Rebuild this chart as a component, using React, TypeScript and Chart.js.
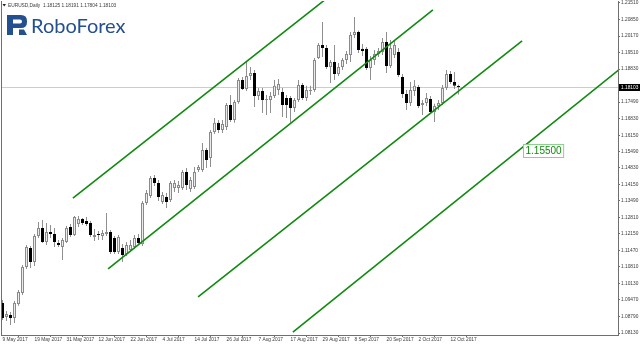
import React, { useEffect, useRef } from "react";
import { Chart, registerables } from "chart.js";
Chart.register(...registerables);

const symbolTitle = "EURUSD,Daily";
const brandName = "RoboForex";

const opens = [
  1.0935, 1.0878, 1.0886, 1.0874, 1.0931, 1.0975, 1.1081, 1.1158, 1.1101, 1.1206,
  1.1239, 1.1182, 1.1223, 1.1214, 1.1178, 1.1162, 1.1182, 1.1243, 1.121, 1.1255,
  1.1275, 1.1267, 1.1259, 1.1202, 1.1214, 1.1206, 1.1214, 1.1223, 1.1198, 1.1141,
  1.1158, 1.1133, 1.115, 1.1162, 1.1198, 1.1174, 1.134, 1.1368, 1.1441, 1.1421,
  1.1344, 1.1364, 1.1352, 1.1401, 1.1401, 1.1401, 1.1466, 1.1397, 1.1405, 1.1474,
  1.1474, 1.1555, 1.1523, 1.1628, 1.1665, 1.1636, 1.1648, 1.1737, 1.1677, 1.175,
  1.1839, 1.1802, 1.1855, 1.1867, 1.1774, 1.1794, 1.1758, 1.1758, 1.1774, 1.1798,
  1.179, 1.1766, 1.1766, 1.1725, 1.1758, 1.1819, 1.1766, 1.1794, 1.1798, 1.1928,
  1.1981, 1.1969, 1.1892, 1.1912, 1.1863, 1.1892, 1.192, 1.194, 1.2021, 1.2033,
  1.1965, 1.1965, 1.1887, 1.192, 1.1944, 1.1952, 1.1993, 1.1896, 1.194, 1.1952,
  1.1851, 1.1782, 1.1746, 1.1794, 1.181, 1.1737, 1.1746, 1.1762, 1.1709, 1.1733,
  1.1746, 1.1806, 1.1863, 1.1831, 1.18125,
];
const highs = [
  1.0947, 1.0902, 1.0898, 1.0943, 1.0987, 1.1089, 1.117, 1.1166, 1.1214, 1.1263,
  1.1271, 1.1259, 1.1251, 1.1239, 1.119, 1.1198, 1.1247, 1.1255, 1.1287, 1.1287,
  1.1279, 1.1283, 1.1267, 1.1235, 1.1227, 1.1231, 1.13, 1.1231, 1.1206, 1.121,
  1.1174, 1.1182, 1.119, 1.121, 1.1214, 1.1348, 1.1393, 1.145, 1.1454, 1.1433,
  1.1385, 1.1381, 1.1429, 1.1433, 1.1429, 1.1474, 1.1482, 1.1446, 1.1486, 1.1494,
  1.1583, 1.1563, 1.1636, 1.1685, 1.1677, 1.1677, 1.1746, 1.1778, 1.1758, 1.1847,
  1.1851, 1.1912, 1.1892, 1.1879, 1.1806, 1.1806, 1.1778, 1.179, 1.1839, 1.1843,
  1.1806, 1.1778, 1.1774, 1.1766, 1.1839, 1.1827, 1.1815, 1.1815, 1.1928, 1.1989,
  1.2074, 1.1981, 1.192, 1.1981, 1.1908, 1.1928, 1.1956, 1.2033, 1.2094, 1.2038,
  1.1985, 1.1973, 1.1936, 1.196, 1.1969, 1.2009, 1.2033, 1.2001, 1.2001, 1.1969,
  1.1863, 1.1798, 1.1831, 1.1839, 1.1819, 1.1758, 1.1786, 1.1774, 1.1742, 1.1758,
  1.1819, 1.1879, 1.1875, 1.1871, 1.18191,
];
const lows = [
  1.0866, 1.0862, 1.0845, 1.0854, 1.0923, 1.0967, 1.1073, 1.1077, 1.1085, 1.1198,
  1.1178, 1.117, 1.1198, 1.1162, 1.1162, 1.1109, 1.1178, 1.1202, 1.1206, 1.1243,
  1.1251, 1.1247, 1.1202, 1.1186, 1.119, 1.119, 1.1206, 1.1133, 1.1133, 1.1133,
  1.1101, 1.1125, 1.1141, 1.1154, 1.117, 1.1166, 1.1332, 1.136, 1.1409, 1.1348,
  1.1336, 1.132, 1.1344, 1.1385, 1.1381, 1.1393, 1.1393, 1.1385, 1.1397, 1.1466,
  1.1466, 1.1482, 1.1486, 1.162, 1.1624, 1.1624, 1.1636, 1.1669, 1.1665, 1.1742,
  1.1798, 1.1794, 1.1839, 1.1729, 1.1758, 1.1705, 1.1697, 1.1705, 1.1766, 1.1778,
  1.1689, 1.1685, 1.1665, 1.1709, 1.175, 1.1758, 1.1754, 1.1778, 1.179, 1.1924,
  1.1932, 1.1883, 1.1827, 1.1839, 1.1855, 1.1879, 1.1904, 1.1912, 1.2009, 1.1948,
  1.1936, 1.1879, 1.1839, 1.19, 1.1932, 1.194, 1.1867, 1.1887, 1.1928, 1.1851,
  1.1766, 1.1717, 1.1733, 1.1774, 1.1725, 1.1697, 1.1733, 1.1701, 1.1669, 1.1717,
  1.1737, 1.1798, 1.1823, 1.1802, 1.17804,
];
const closes = [
  1.0874, 1.089, 1.0874, 1.0935, 1.0979, 1.1081, 1.1162, 1.1101, 1.1206, 1.1239,
  1.1182, 1.1223, 1.1214, 1.1182, 1.117, 1.119, 1.1239, 1.121, 1.1283, 1.1275,
  1.1259, 1.1255, 1.121, 1.121, 1.121, 1.1218, 1.1223, 1.1141, 1.1141, 1.1202,
  1.1129, 1.117, 1.117, 1.1198, 1.1178, 1.134, 1.1381, 1.1441, 1.1421, 1.1364,
  1.1373, 1.1344, 1.1421, 1.1421, 1.1413, 1.1466, 1.1413, 1.1433, 1.1466, 1.1486,
  1.1555, 1.1514, 1.1628, 1.1665, 1.1636, 1.166, 1.1737, 1.1677, 1.175, 1.1839,
  1.1802, 1.1855, 1.1867, 1.1774, 1.1794, 1.1758, 1.1762, 1.1774, 1.1815, 1.1823,
  1.1737, 1.1737, 1.1725, 1.1758, 1.1819, 1.1766, 1.1798, 1.1798, 1.192, 1.1981,
  1.1969, 1.1892, 1.1912, 1.1863, 1.1892, 1.192, 1.1944, 1.2021, 1.2033, 1.196,
  1.1956, 1.1887, 1.192, 1.1944, 1.1956, 1.1993, 1.1896, 1.1969, 1.1981, 1.1859,
  1.1782, 1.1746, 1.1798, 1.1815, 1.1733, 1.1746, 1.1766, 1.1709, 1.1733, 1.1746,
  1.1806, 1.1863, 1.1831, 1.1815, 1.18103,
];

const xTickPositions = [0, 8, 16, 24, 32, 40, 48, 56, 64, 72, 80, 88, 96, 104, 112];
const xTickLabels = [
  "9 May 2017", "19 May 2017", "31 May 2017", "12 Jun 2017", "22 Jun 2017",
  "4 Jul 2017", "14 Jul 2017", "26 Jul 2017", "7 Aug 2017", "17 Aug 2017",
  "29 Aug 2017", "8 Sep 2017", "20 Sep 2017", "2 Oct 2017", "12 Oct 2017",
];
const yTickValues = [
  1.2151, 1.2085, 1.2017, 1.1951, 1.1883, 1.1749, 1.1683, 1.1615, 1.1549, 1.1483,
  1.1415, 1.1349, 1.1281, 1.1215, 1.1147, 1.1081, 1.1013, 1.0947, 1.0879, 1.0813,
];

// channel trend lines (bar index, price)
const channelA = [{ x: 17.6, y: 1.136 }, { x: 81, y: 1.2169 }];
const channelB = [{ x: 26.4, y: 1.1073 }, { x: 107.6, y: 1.2123 }];
const channelC = [{ x: 48.9, y: 1.0959 }, { x: 129.9, y: 1.1997 }];
const channelD = [{ x: 72.6, y: 1.0817 }, { x: 154, y: 1.1879 }];
const levelValue = 1.155;
const levelIndex = 130.1;

const X_MIN = -0.125;
const X_MAX = 153.875;
const Y_MIN = 1.08049;
const Y_MAX = 1.21591;

const GREEN = "#0f8a0f";
const AXIS = "#6f6f6f";
const TEXT = "#3a3a3a";
const BLUE = "#24508f";
const FONT = "'Liberation Sans', Arial, sans-serif";

export default function App() {
  const ref = useRef<HTMLCanvasElement>(null);
  useEffect(() => {
    document.body.style.margin = "0";
    const canvas = ref.current!;
    const n = opens.length;
    const lastClose = closes[n - 1];
    const isBull = (i: number) => closes[i] >= opens[i];

    const overlay = {
      id: "overlay",
      beforeDatasetsDraw(chart: any) {
        const { ctx, chartArea: a, scales } = chart;
        const y = Math.round(scales.y.getPixelForValue(lastClose)) + 0.5;
        ctx.save();
        ctx.strokeStyle = "#cdcdcd";
        ctx.lineWidth = 1;
        ctx.beginPath();
        ctx.moveTo(a.left, y);
        ctx.lineTo(a.right, y);
        ctx.stroke();
        ctx.restore();
      },
      afterDraw(chart: any) {
        const { ctx, chartArea: a, scales } = chart;
        ctx.save();
        // left frame
        ctx.strokeStyle = AXIS;
        ctx.lineWidth = 1;
        ctx.beginPath();
        ctx.moveTo(a.left - 0.5, a.top);
        ctx.lineTo(a.left - 0.5, a.bottom + 1);
        ctx.stroke();

        // header
        ctx.fillStyle = "#222";
        ctx.beginPath();
        ctx.moveTo(2.5, 4);
        ctx.lineTo(6, 4);
        ctx.lineTo(4.25, 6.5);
        ctx.closePath();
        ctx.fill();
        ctx.font = `4.8px ${FONT}`;
        ctx.textBaseline = "alphabetic";
        ctx.textAlign = "left";
        ctx.fillStyle = TEXT;
        const hdr = `${symbolTitle}  ${opens[n - 1].toFixed(5)} ${highs[n - 1].toFixed(5)} ${lows[n - 1].toFixed(5)} ${lastClose.toFixed(5)}`;
        ctx.fillText(hdr, 8, 7);

        // logo icon
        ctx.fillStyle = BLUE;
        ctx.beginPath();
        ctx.moveTo(7, 15);
        ctx.lineTo(21, 15);
        ctx.quadraticCurveTo(27, 15, 27, 21);
        ctx.lineTo(27, 22);
        ctx.quadraticCurveTo(27, 28, 21, 28);
        ctx.lineTo(13, 28);
        ctx.lineTo(13, 35);
        ctx.lineTo(7, 35);
        ctx.closePath();
        ctx.moveTo(13, 19.5);
        ctx.lineTo(13, 23.5);
        ctx.lineTo(20, 23.5);
        ctx.quadraticCurveTo(22, 23.5, 22, 21.5);
        ctx.quadraticCurveTo(22, 19.5, 20, 19.5);
        ctx.closePath();
        ctx.fill("evenodd");
        ctx.beginPath();
        ctx.moveTo(19, 29.5);
        ctx.lineTo(24, 29.5);
        ctx.lineTo(27, 35);
        ctx.lineTo(19, 35);
        ctx.closePath();
        ctx.fill();
        // logo text
        ctx.font = `20px Lato, 'Open Sans', sans-serif`;
        ctx.fillStyle = BLUE;
        ctx.fillText(brandName, 31, 33);

        // level label
        const lx = scales.x.getPixelForValue(levelIndex);
        const ly = scales.y.getPixelForValue(levelValue);
        ctx.font = `10px ${FONT}`;
        const txt = levelValue.toFixed(5);
        const tw = ctx.measureText(txt).width;
        const bx = Math.round(lx) + 0.5;
        const by = Math.round(ly - 7) + 0.5;
        ctx.fillStyle = "#ffffff";
        ctx.fillRect(bx, by, tw + 4, 13);
        ctx.strokeStyle = "#8fd08f";
        ctx.strokeRect(bx, by, tw + 4, 13);
        ctx.fillStyle = GREEN;
        ctx.textBaseline = "middle";
        ctx.fillText(txt, bx + 2, by + 7);

        // current price tag
        const py = scales.y.getPixelForValue(lastClose);
        ctx.fillStyle = "#000";
        ctx.fillRect(a.right + 1, Math.round(py) - 3, 640 - a.right - 1, 7);
        ctx.fillStyle = "#fff";
        ctx.font = `4.8px ${FONT}`;
        ctx.textBaseline = "middle";
        ctx.fillText(lastClose.toFixed(5), a.right + 3, Math.round(py) + 0.5);
        ctx.restore();
      },
    };

    const lineDs = (data: any[]) => ({
      type: "line" as const,
      data,
      borderColor: GREEN,
      borderWidth: 1.6,
      pointRadius: 0,
      fill: false,
      order: 0,
    });

    const chart = new Chart(canvas, {
      type: "bar",
      data: {
        datasets: [
          {
            type: "bar",
            data: highs.map((h, i) => ({ x: i, y: [lows[i], h] })),
            backgroundColor: "#8f8f8f",
            borderWidth: 0,
            barThickness: 1,
            grouped: false,
            inflateAmount: 0,
            order: 2,
          } as any,
          {
            type: "bar",
            data: opens.map((o, i) => ({ x: i, y: [o, closes[i]] })),
            backgroundColor: opens.map((_, i) => (isBull(i) ? "#ececec" : "#000000")),
            borderColor: opens.map((_, i) => (isBull(i) ? "#8a8a8a" : "#000000")),
            borderWidth: 1,
            borderSkipped: false,
            barThickness: 3,
            minBarLength: 1,
            grouped: false,
            inflateAmount: 0,
            order: 1,
          } as any,
          lineDs(channelA),
          lineDs(channelB),
          lineDs(channelC),
          lineDs(channelD),
        ],
      },
      options: {
        responsive: false,
        animation: false,
        events: [],
        layout: { padding: { left: 2, top: 1, right: 0, bottom: 0 } },
        plugins: { legend: { display: false }, tooltip: { enabled: false } },
        scales: {
          x: {
            type: "linear",
            min: X_MIN,
            max: X_MAX,
            offset: false,
            afterBuildTicks: (axis: any) => {
              axis.ticks = xTickPositions.map((v) => ({ value: v }));
            },
            afterFit: (axis: any) => {
              axis.height = 10;
              axis.paddingLeft = 0;
              axis.paddingRight = 0;
            },
            ticks: {
              autoSkip: false,
              maxRotation: 0,
              minRotation: 0,
              align: "start",
              padding: 0,
              color: TEXT,
              font: { size: 4.8, family: FONT },
              callback: (v: any) => {
                const k = xTickPositions.indexOf(Number(v));
                return k >= 0 ? xTickLabels[k] : "";
              },
            },
            grid: { drawOnChartArea: false, drawTicks: true, tickLength: 2, color: AXIS },
            border: { display: true, color: AXIS },
          },
          y: {
            type: "linear",
            position: "right",
            min: Y_MIN,
            max: Y_MAX,
            afterBuildTicks: (axis: any) => {
              axis.ticks = yTickValues.map((v) => ({ value: v }));
            },
            afterFit: (axis: any) => {
              axis.width = 22;
              axis.paddingTop = 0;
              axis.paddingBottom = 0;
            },
            ticks: {
              autoSkip: false,
              padding: 1,
              color: TEXT,
              font: { size: 4.8, family: FONT },
              callback: (v: any) => Number(v).toFixed(5),
            },
            grid: { drawOnChartArea: false, drawTicks: true, tickLength: 2, color: AXIS },
            border: { display: true, color: AXIS },
          },
        },
      },
      plugins: [overlay],
    } as any);
    return () => chart.destroy();
  }, []);

  return (
    <div style={{ position: "fixed", left: 0, top: 0, width: 640, height: 345, background: "#fff" }}>
      <canvas ref={ref} width={640} height={345} style={{ display: "block" }} />
    </div>
  );
}
